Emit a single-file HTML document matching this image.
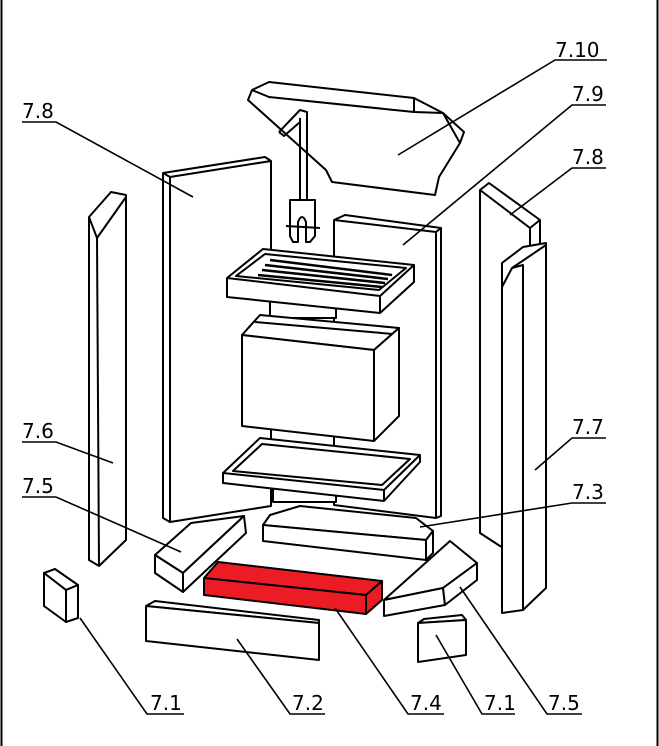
<!DOCTYPE html>
<html><head><meta charset="utf-8"><style>
html,body{margin:0;padding:0;background:#fff;width:659px;height:746px;overflow:hidden}
svg{display:block}
text{font-family:"DejaVu Sans","Liberation Sans",sans-serif;font-size:20px;fill:#000}
</style></head><body>
<svg width="659" height="746" viewBox="0 0 659 746" xmlns="http://www.w3.org/2000/svg">
<g fill="#fff" stroke="#000" stroke-width="2" stroke-linejoin="round">
<line x1="1.5" y1="0" x2="1.5" y2="746"/>
<line x1="657.5" y1="0" x2="657.5" y2="746"/>
<!-- 7.10 top -->
<polygon points="248,100 252,90 269,82 414,98 443,113 464,132 460,143 439,177 435,195 332,182 326,170"/>
<polyline fill="none" points="252,90 269,97 414,112 443,113"/>
<line x1="414" y1="98" x2="414" y2="112"/>
<polyline fill="none" points="443,113 460,143"/>
<!-- hook -->
<path d="M279,132 L300,110 L307,112 L307,200 M300,118 L300,200 M279,132 L284,136 L300,122" fill="none"/>
<!-- left column 7.6 -->
<polygon points="89,217 111,192 126,195 126,540 99,566 89,560"/>
<polyline fill="none" points="89,217 97,238 126,197"/>
<line x1="97" y1="238" x2="99" y2="566"/>
<!-- left panel 7.8 -->
<polygon points="163,173 265,157 271,161 271,506 170,522 163,518"/>
<polyline fill="none" points="163,173 170,177 271,161"/>
<line x1="170" y1="177" x2="170" y2="522"/>
<!-- middle panel 7.9 -->
<polygon points="334,220 345,215 441,228 441,516 436,518 334,505"/>
<polyline fill="none" points="334,220 436,232 441,228"/>
<line x1="436" y1="232" x2="436" y2="518"/>
<!-- hook bracket -->
<path d="M290,200 L315,200 L315,236 L310,242 L306,242 L306,222 Q302,212 298,222 L298,242 L293,242 L290,236 Z"/>
<line x1="286" y1="226" x2="320" y2="228"/>
<!-- right panel 7.8 -->
<polygon points="480,190 489,183 540,220 540,560 500,546 480,533"/>
<polyline fill="none" points="480,190 530,228 540,220"/>
<line x1="530" y1="228" x2="530" y2="245"/>
<!-- right column 7.7 -->
<polygon points="502,263 523,247 546,243 546,588 523,610 502,613"/>
<polyline fill="none" points="502,287 512,268 546,245"/>
<polyline fill="none" points="512,268 523,265 523,610"/>
<!-- connector blocks -->
<rect x="270" y="300" width="66" height="18"/>
<rect x="273" y="486" width="63" height="16"/>
<!-- box -->
<polygon points="242,335 260,315 399,328 374,350"/>
<polyline fill="none" points="255,322 393,334"/>
<polygon points="242,335 374,350 374,441 242,426"/>
<polygon points="374,350 399,328 399,416 374,441"/>
<!-- grate tray -->
<polygon points="227,278 263,249 414,265 414,282 380,313 227,297"/>
<polyline fill="none" points="227,278 380,296 414,265"/>
<line x1="380" y1="296" x2="380" y2="313"/>
<polygon points="236,276 265,254 406,268 379,290"/>
<g stroke-width="2.5">
<line x1="265" y1="265" x2="388" y2="279"/>
<line x1="262" y1="270" x2="385" y2="283"/>
<line x1="258" y1="275" x2="382" y2="287"/>
<line x1="270" y1="260" x2="392" y2="275"/>
</g>
<!-- ash pan -->
<polygon points="223,473 260,438 420,455 420,462 384,501 223,483"/>
<polyline fill="none" points="223,473 384,490 420,455"/>
<line x1="384" y1="490" x2="384" y2="501"/>
<polygon points="233,471 262,444 410,459 382,485"/>
<!-- 7.3 -->
<polygon points="263,525 270,515 300,506 416,518 433,531 426,540"/>
<polygon points="263,525 426,540 426,560 263,541"/>
<polygon points="426,540 433,531 433,553 426,560"/>
<!-- 7.5 left -->
<polygon points="155,555 191,523 244,516 183,573"/>
<polygon points="183,573 244,516 246,533 183,592"/>
<polygon points="155,555 183,573 183,592 155,573"/>
<!-- 7.4 red -->
<g fill="#ec1c24">
<polygon points="204,578 218,562 382,581 366,595"/>
<polygon points="204,578 366,595 366,614 204,595"/>
<polygon points="366,595 382,581 382,600 366,614"/>
</g>
<!-- 7.5 right -->
<polygon points="384,600 450,541 477,563 443,588"/>
<polygon points="384,600 443,588 445,605 384,616"/>
<polygon points="443,588 477,563 477,580 445,605"/>
<!-- 7.2 -->
<polygon points="146,606 155,601 319,620 319,623"/>
<polygon points="146,606 319,623 319,660 146,641"/>
<!-- 7.1 left -->
<polygon points="44,573 55,569 78,585 66,590"/>
<polygon points="44,573 66,590 66,622 44,606"/>
<polygon points="66,590 78,585 78,618 66,622"/>
<!-- 7.1 right -->
<polygon points="418,623 424,619 462,615 466,620"/>
<polygon points="418,623 466,620 466,655 418,662"/>
</g>
<!-- leaders -->
<g fill="none" stroke="#000" stroke-width="1.6">
<polyline points="607,60 555,60 398,155"/>
<polyline points="606,105 572,105 403,245"/>
<polyline points="606,168 572,168 510,215"/>
<polyline points="22,122 56,122 193,197"/>
<polyline points="22,442 56,442 113,463"/>
<polyline points="22,497 56,497 181,552"/>
<polyline points="606,438 572,438 535,470"/>
<polyline points="606,503 572,503 420,527"/>
<polyline points="184,714 147,714 80,618"/>
<polyline points="325,714 290,714 237,639"/>
<polyline points="444,714 408,714 335,608"/>
<polyline points="515,714 482,714 436,635"/>
<polyline points="582,714 547,714 460,587"/>
</g>
<text x="555" y="57">7.10</text>
<text x="572" y="101">7.9</text>
<text x="572" y="164">7.8</text>
<text x="22" y="118">7.8</text>
<text x="22" y="438">7.6</text>
<text x="22" y="493">7.5</text>
<text x="572" y="434">7.7</text>
<text x="572" y="499">7.3</text>
<text x="150" y="710">7.1</text>
<text x="292" y="710">7.2</text>
<text x="410" y="710">7.4</text>
<text x="484" y="710">7.1</text>
<text x="548" y="710">7.5</text>
</svg>
</body></html>
